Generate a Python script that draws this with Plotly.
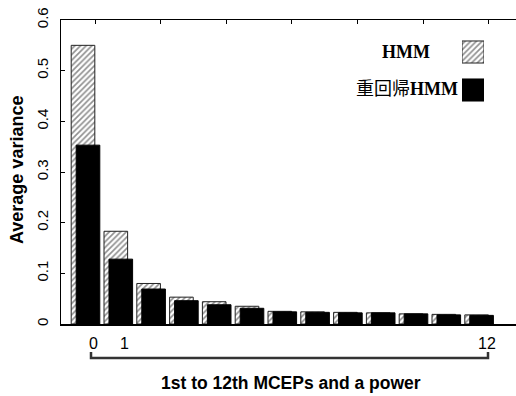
import plotly.graph_objects as go

# ---- data ----
categories = list(range(13))  # 0 = power, 1..12 = MCEPs
hmm_values = [0.550, 0.183, 0.080, 0.053, 0.044, 0.035, 0.025, 0.024, 0.023, 0.022, 0.020, 0.019, 0.018]
mrhmm_values = [0.353, 0.128, 0.069, 0.046, 0.038, 0.031, 0.024, 0.023, 0.022, 0.022, 0.020, 0.018, 0.017]
series_names = ["HMM", "重回帰HMM"]
x_tick_labels = ["0", "1", "12"]
x_tick_cats = [0, 1, 12]
y_ticks = [0, 0.1, 0.2, 0.3, 0.4, 0.5, 0.6]
y_tick_text = ["0", "0.1", "0.2", "0.3", "0.4", "0.5", "0.6"]

# ---- geometry (window pixels) ----
W, H = 516, 396
L, T, B_pg = 61, 20, 324
R = 0
B = H - B_pg
PW, PH = W - L - R, H - T - B

def px(xp):
    return (xp - L) / PW

def py(yp):
    return (B_pg - yp) / PH

SANS = "Liberation Sans, Arial, sans-serif"
SERIF = "Liberation Serif, Times New Roman, Noto Sans CJK JP, serif"

bar_w = 0.72
shift = 0.076
hatch = dict(shape="/", size=4, solidity=0.42, fgcolor="#222222", bgcolor="white")

fig = go.Figure()
fig.add_trace(go.Bar(
    x=categories, y=hmm_values, name=series_names[0], width=bar_w,
    offset=-bar_w / 2 - shift,
    marker=dict(color="white", pattern=hatch, line=dict(color="#222222", width=1)),
    showlegend=False,
))
fig.add_trace(go.Bar(
    x=categories, y=mrhmm_values, name=series_names[1], width=bar_w,
    offset=-bar_w / 2 + shift,
    marker=dict(color="black", line=dict(color="black", width=1)),
    showlegend=False,
))

# legend swatches on their own small axes (text sits to the left of the swatch)
fig.add_trace(go.Bar(
    x=[1], y=[1], base=0, orientation="h", width=0.58, xaxis="x3", yaxis="y3",
    marker=dict(color="white", pattern=hatch, line=dict(color="#222222", width=1)),
    showlegend=False, hoverinfo="skip",
))
fig.add_trace(go.Bar(
    x=[1], y=[0], base=0, orientation="h", width=0.58, xaxis="x3", yaxis="y3",
    marker=dict(color="black", line=dict(color="black", width=1)),
    showlegend=False, hoverinfo="skip",
))

xr = [-0.747, 13.125]
fig.update_layout(
    width=W, height=H,
    margin=dict(l=L, r=R, t=T, b=B, pad=0, autoexpand=False),
    paper_bgcolor="white", plot_bgcolor="white",
    barmode="overlay",
    bargap=0,
    font=dict(family=SANS, color="black", size=15),
    xaxis=dict(range=xr, showgrid=False, zeroline=False, showline=True,
               linecolor="black", linewidth=1.5, ticks="", showticklabels=False,
               fixedrange=True, automargin=False),
    xaxis2=dict(range=xr, overlaying="x", side="top", anchor="y", showgrid=False,
                zeroline=False, showline=True, linecolor="black", linewidth=1.5,
                ticks="inside", ticklen=4, tickcolor="black",
                tickvals=[0.29 + 2 * k for k in range(7)], showticklabels=False,
                automargin=False),
    yaxis=dict(range=[0, 0.6], showgrid=False, zeroline=False, showline=True,
               linecolor="black", linewidth=1.5, ticks="inside", ticklen=4,
               tickcolor="black", tickvals=y_ticks, ticktext=y_tick_text,
               tickangle=-90, tickfont=dict(size=15, family=SANS),
               ticklabelstandoff=6, ticklabeloverflow="allow", automargin=False),
    xaxis3=dict(domain=[px(462), px(484)], range=[0, 1], anchor="y3",
                visible=False, fixedrange=True),
    yaxis3=dict(domain=[py(109), py(33)], range=[-0.5, 1.5], anchor="x3",
                visible=False, fixedrange=True),
)

# invisible trace to make sure the top axis is drawn
fig.add_trace(go.Scatter(x=[0], y=[0], xaxis="x2", yaxis="y", mode="markers",
                         marker=dict(opacity=0), showlegend=False, hoverinfo="skip"))

annotations = []
# category labels under the axis
label_nudge = {0: 0.23, 1: 0.19, 12: 0.23}
for cat, lab in zip(x_tick_cats, x_tick_labels):
    annotations.append(dict(x=cat + label_nudge[cat], y=py(343),
                            xref="x", yref="paper", text=lab, showarrow=False,
                            font=dict(size=16, family=SANS), xanchor="center",
                            yanchor="middle"))
# axis titles
annotations.append(dict(x=px(291), y=py(383), xref="paper", yref="paper",
                        text="<b>1st to 12th MCEPs and a power</b>", showarrow=False,
                        font=dict(size=17.5, family=SANS), xanchor="center",
                        yanchor="middle"))
annotations.append(dict(x=px(17), y=py(170), xref="paper", yref="paper",
                        text="<b>Average variance</b>", textangle=-90, showarrow=False,
                        font=dict(size=18, family=SANS), xanchor="center",
                        yanchor="middle"))
# legend labels
annotations.append(dict(x=px(406), y=py(52), xref="paper", yref="paper",
                        text="<b>" + series_names[0] + "</b>", showarrow=False,
                        font=dict(size=18, family=SERIF), xanchor="center",
                        yanchor="middle"))
annotations.append(dict(x=px(407), y=py(89), xref="paper", yref="paper",
                        text="重回帰<b>HMM</b>", showarrow=False,
                        font=dict(size=18, family=SERIF), xanchor="center",
                        yanchor="middle"))
fig.update_layout(annotations=annotations)

# bracket under the category labels
x0, x1 = px(91), px(488)
yl, yh = py(358), py(352)
fig.add_shape(type="path", xref="paper", yref="paper",
              path=f"M {x0} {yh} L {x0} {yl} L {x1} {yl} L {x1} {yh}",
              line=dict(color="#333333", width=2.5))

# remove the default 8px page margin so the figure fills the window exactly
fig.write_html("out.html",
               config={"displayModeBar": False, "staticPlot": True},
               post_script="document.body.style.margin='0';document.body.style.overflow='hidden';")
